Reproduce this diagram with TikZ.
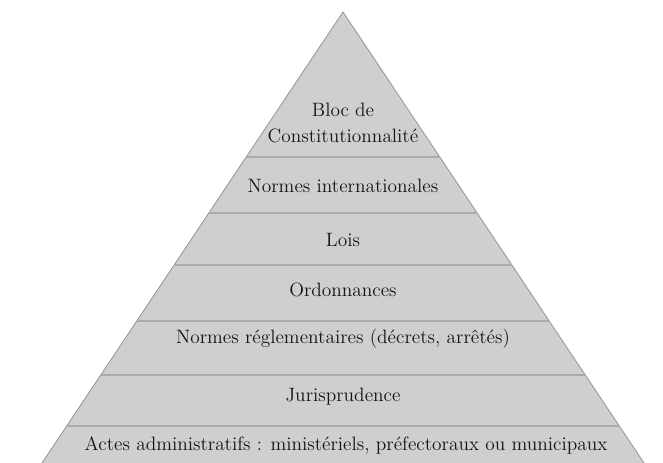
\documentclass[tikz,border=0pt]{standalone}
\usetikzlibrary{calc}
\begin{document}
\begin{tikzpicture}[x=0.75pt,y=-0.75pt,
bandtext/.style={font=\fontsize{14.5}{20.2}\selectfont, text=black!92, align=center, inner sep=0pt, anchor=base},
bandline/.style={draw=black!33, line width=1.1pt},
]
\useasboundingbox (0,0) rectangle (663,463);
\coordinate (apex) at (343,12);
\coordinate (bl) at (42,463);
\coordinate (br) at (644,463);

\fill [black!19] (apex) -- (bl) -- (br) -- cycle;
\draw [black!42, line width=0.6pt] (bl) -- (apex) -- (br);

% separators between the levels
\foreach \t in {0.3215,0.4457,0.5610,0.6851,0.8049,0.9180}
    \draw [bandline] ($(apex)!\t!(bl)$) -- ($(apex)!\t!(br)$);

\node [bandtext] (b1) at (343,143) {Bloc de\\Constitutionnalité};

    \node [bandtext] (c1) at (343,193) {Normes internationales};
    \node [bandtext] (c2) at (343,247) {Lois};
    \node [bandtext] (c3) at (343,296) {Ordonnances};
    \node [bandtext] (c4) at (343,343) {Normes réglementaires (décrets, arrêtés)};
    \node [bandtext] (c5) at (343,401) {Jurisprudence};
    \node [bandtext] (c6) at (346,450) {Actes administratifs : ministériels, préfectoraux ou municipaux};
\end{tikzpicture}
\end{document}
